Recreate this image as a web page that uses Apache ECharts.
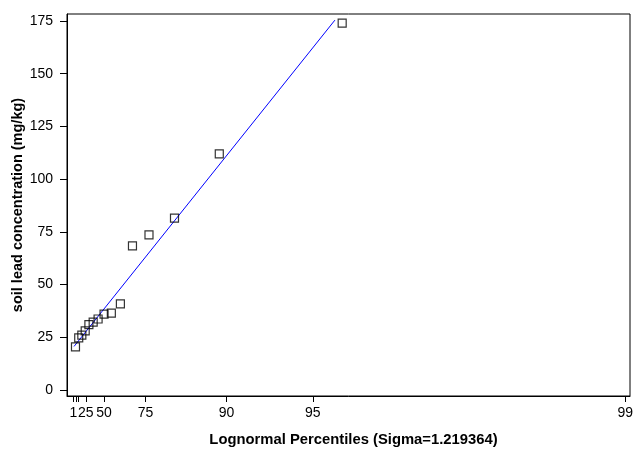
<!DOCTYPE html>
<html>
<head>
<meta charset="utf-8">
<script src="https://cdn.jsdelivr.net/npm/echarts@6/dist/echarts.min.js"></script>
<style>
  html, body { margin: 0; padding: 0; background: #fff; }
  #chart { width: 640px; height: 464px; }
</style>
</head>
<body>
<div id="chart"></div>
<script>
// lognormal shape parameter of the axis
var SIGMA = 1.219364;

// percentile (plotting position) and soil lead value of each sample
var pointPct = [4.1, 10.7, 17.2, 23.8, 30.3, 36.9, 43.4, 50.0, 56.6, 63.1, 69.7, 76.2, 82.8, 89.3, 95.9];
var pointLead = [20.5, 24.8, 26.1, 28.1, 31.0, 32.2, 33.7, 36.0, 36.5, 40.9, 68.4, 73.6, 81.5, 112.0, 174.0];

// fitted reference line, two ends (percentile, value)
var linePct = [1.7, 95.7];
var lineLead = [20.7, 175.4];

// x axis ticks
var tickPct = [1, 5, 10, 25, 50, 75, 90, 95, 99];
var labelPct = [1, 25, 50, 75, 90, 95, 99];
// y axis ticks
var yTicks = [0, 25, 50, 75, 100, 125, 150, 175];

// inverse standard normal cdf (Acklam)
function qnorm(p) {
    var a = [-39.69683028665376, 220.9460984245205, -275.9285104469687, 138.3577518672690, -30.66479806614716, 2.506628277459239];
    var b = [-54.47609879822406, 161.5858368580409, -155.6989798598866, 66.80131188771972, -13.28068155288572];
    var c = [-0.007784894002430293, -0.3223964580411365, -2.400758277161838, -2.549732539343734, 4.374664141464968, 2.938163982698783];
    var d = [0.007784695709041462, 0.3224671290700398, 2.445134137142996, 3.754408661907416];
    var pl = 0.02425, q, r;
    if (p < pl) {
        q = Math.sqrt(-2 * Math.log(p));
        return (((((c[0]*q+c[1])*q+c[2])*q+c[3])*q+c[4])*q+c[5]) / ((((d[0]*q+d[1])*q+d[2])*q+d[3])*q+1);
    }
    if (p > 1 - pl) {
        q = Math.sqrt(-2 * Math.log(1 - p));
        return -(((((c[0]*q+c[1])*q+c[2])*q+c[3])*q+c[4])*q+c[5]) / ((((d[0]*q+d[1])*q+d[2])*q+d[3])*q+1);
    }
    q = p - 0.5;
    r = q * q;
    return (((((a[0]*r+a[1])*r+a[2])*r+a[3])*r+a[4])*r+a[5])*q / (((((b[0]*r+b[1])*r+b[2])*r+b[3])*r+b[4])*r+1);
}

// percentile -> lognormal axis position
function lx(pct) {
    return Math.exp(SIGMA * qnorm(pct / 100));
}

// axis position -> nearest labelled percentile
function pctLabel(v) {
    var best = labelPct[0], bd = Infinity;
    labelPct.forEach(function (p) {
        var d = Math.abs(lx(p) - v);
        if (d < bd) { bd = d; best = p; }
    });
    return String(best);
}

var points = pointPct.map(function (p, i) { return [lx(p), pointLead[i]]; });
var line = linePct.map(function (p, i) { return [lx(p), lineLead[i]]; });

var myChart = echarts.init(document.getElementById('chart'));

var option = {
    animation: false,
    backgroundColor: '#fff',
    textStyle: { fontFamily: 'Liberation Sans, Arial, sans-serif' },
    grid: {
        left: 67, right: 10, top: 14, bottom: 68,
        outerBoundsMode: 'none',
        containLabel: false,
        show: true, borderColor: '#000', borderWidth: 1
    },
    xAxis: {
        type: 'value',
        min: lx(1) - 0.2,
        max: 17.205,
        name: 'Lognormal Percentiles (Sigma=1.219364)',
        nameLocation: 'middle',
        nameGap: 44,
        nameMoveOverlap: false,
        nameTextStyle: { color: '#000', fontSize: 14.8, fontWeight: 'bold', verticalAlign: 'middle', padding: [0, 0, 0, 10] },
        axisLine: { onZero: false, lineStyle: { color: '#000', width: 1 } },
        axisTick: {
            show: true, length: 6,
            customValues: tickPct.map(lx),
            lineStyle: { color: '#000' }
        },
        axisLabel: {
            color: '#000', fontSize: 14, margin: 10,
            customValues: labelPct.map(lx),
            formatter: pctLabel
        },
        splitLine: { show: false }
    },
    yAxis: {
        type: 'value',
        min: -2.8,
        max: 178.3,
        name: 'soil lead concentration (mg/kg)',
        nameLocation: 'middle',
        nameGap: 49,
        nameMoveOverlap: false,
        nameTextStyle: { color: '#000', fontSize: 14.5, fontWeight: 'bold', verticalAlign: 'middle' },
        axisLine: { show: true, onZero: false, lineStyle: { color: '#000', width: 1 } },
        axisTick: {
            show: true, length: 7,
            customValues: yTicks,
            lineStyle: { color: '#000' }
        },
        axisLabel: {
            color: '#000', fontSize: 14, margin: 14,
            customValues: yTicks
        },
        splitLine: { show: false }
    },
    series: [
        {
            type: 'line',
            data: line,
            symbol: 'none',
            lineStyle: { color: '#0000ff', width: 1 },
            z: 2
        },
        {
            type: 'scatter',
            data: points,
            symbol: 'rect',
            symbolSize: 8,
            itemStyle: { color: 'rgba(0,0,0,0)', borderColor: '#000', borderWidth: 1.2 },
            z: 3
        }
    ]
};

myChart.setOption(option);
</script>
</body>
</html>
